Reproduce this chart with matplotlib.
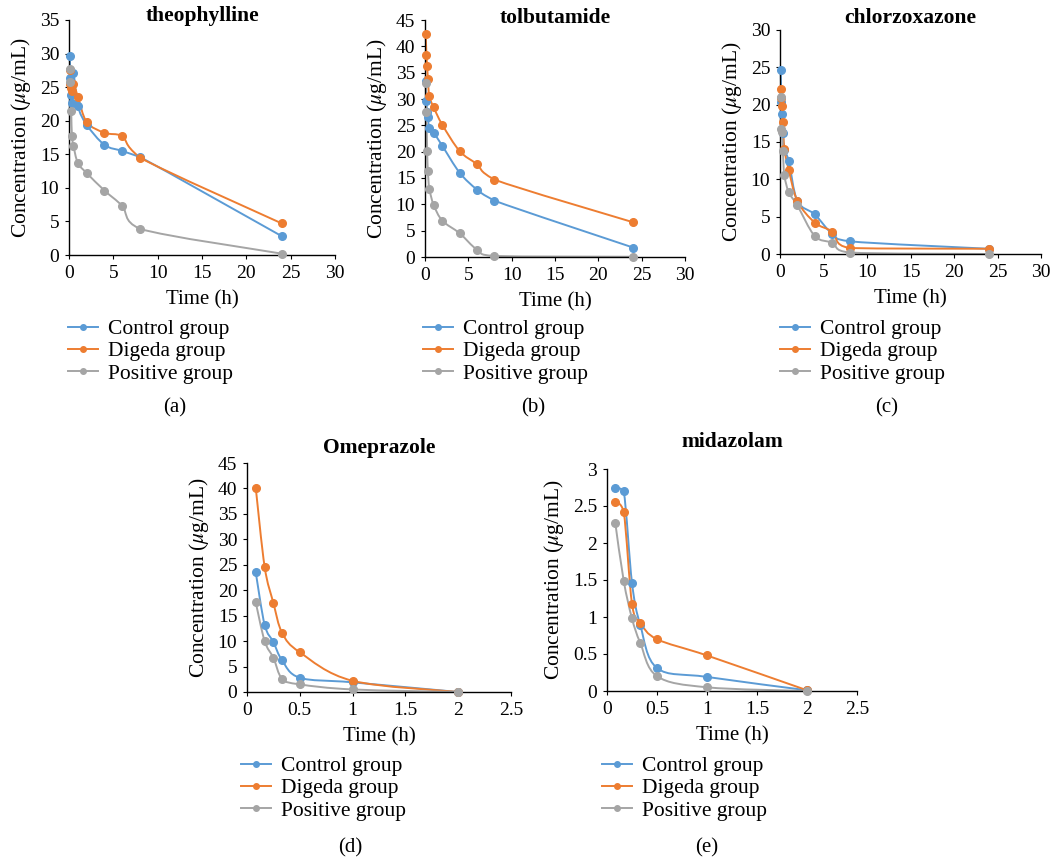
import matplotlib
matplotlib.use("Agg")
import matplotlib.pyplot as plt
import numpy as np
from matplotlib.path import Path
from matplotlib.patches import PathPatch
from matplotlib.lines import Line2D

plt.rcParams['font.family'] = ['Liberation Serif', 'DejaVu Serif']
plt.rcParams['mathtext.fontset'] = 'stix'

groups = ["Control group", "Digeda group", "Positive group"]
colors = ["#5B9BD5", "#ED7D31", "#A5A5A5"]

t_long = [0.083, 0.167, 0.25, 0.333, 0.5, 1, 2, 4, 6, 8, 24]
t_short = [0.083, 0.167, 0.25, 0.333, 0.5, 1, 2]

theo_control = [29.7, 26.3, 23.8, 22.7, 27.1, 22.2, 19.4, 16.4, 15.5, 14.6, 2.8]
theo_digeda = [27.6, 25.5, 24.8, 24.5, 25.5, 23.6, 19.8, 18.2, 17.7, 14.5, 4.7]
theo_positive = [27.7, 25.7, 21.4, 17.7, 16.3, 13.7, 12.2, 9.6, 7.3, 3.9, 0.2]

tolb_control = [33.4, 29.7, 27.5, 26.6, 24.5, 23.6, 21.1, 16.0, 12.8, 10.7, 1.8]
tolb_digeda = [42.4, 38.3, 36.3, 33.8, 30.5, 28.4, 25.1, 20.1, 17.6, 14.7, 6.6]
tolb_positive = [33.0, 27.5, 20.1, 16.3, 13.0, 9.9, 6.9, 4.5, 1.4, 0.2, 0.05]

chlor_control = [24.6, 20.4, 18.8, 16.2, 13.9, 12.5, 7.1, 5.3, 2.7, 1.7, 0.7]
chlor_digeda = [22.1, 20.9, 19.8, 17.7, 14.1, 11.3, 7.1, 4.2, 3.0, 0.8, 0.7]
chlor_positive = [21.0, 16.8, 16.4, 13.8, 10.6, 8.3, 6.5, 2.4, 1.5, 0.2, 0.0]

omep_control = [23.5, 13.2, 9.8, 6.2, 2.8, 1.9, 0.0]
omep_digeda = [40.1, 24.6, 17.5, 11.6, 7.8, 2.2, 0.0]
omep_positive = [17.6, 10.0, 6.7, 2.6, 1.5, 0.5, 0.0]

mida_control = [2.75, 2.70, 1.46, 0.89, 0.31, 0.19, 0.01]
mida_digeda = [2.56, 2.42, 1.18, 0.92, 0.70, 0.48, 0.01]
mida_positive = [2.27, 1.49, 0.98, 0.65, 0.20, 0.05, 0.0]

W, H = 1055, 858
fig = plt.figure(figsize=(W / 100, H / 100), dpi=100)


def smooth_path(x, y):
    pts = np.column_stack([x, y]).astype(float)
    n = len(pts)
    verts = [pts[0]]
    codes = [Path.MOVETO]
    for i in range(n - 1):
        p0 = pts[i - 1] if i > 0 else pts[i]
        p1 = pts[i]
        p2 = pts[i + 1]
        p3 = pts[i + 2] if i + 2 < n else pts[i + 1]
        c1 = p1 + (p2 - p0) / 6.0
        c2 = p2 - (p3 - p1) / 6.0
        for k in (0, 1):
            lo, hi = min(p1[k], p2[k]), max(p1[k], p2[k])
            c1[k] = min(max(c1[k], lo), hi)
            c2[k] = min(max(c2[k], lo), hi)
        verts += [c1, c2, p2]
        codes += [Path.CURVE4] * 3
    return Path(verts, codes)


def panel(px, title, t, series, xmax, xstep, ymax, ystep, title_y, leg_xy, lab_xy, lab):
    l, r, top, bot = px
    ax = fig.add_axes([l / W, 1 - bot / H, (r - l) / W, (bot - top) / H])
    for s, c in zip(series, colors):
        ax.add_patch(PathPatch(smooth_path(t, s), facecolor='none', edgecolor=c,
                               lw=1.4, transform=ax.transData, clip_on=False))
        ax.plot(t, s, 'o', color=c, ms=5.5, clip_on=False, zorder=3)
    ax.set_xlim(0, xmax)
    ax.set_ylim(0, ymax)
    ax.set_xticks(np.arange(0, xmax + 1e-9, xstep))
    ax.set_yticks(np.arange(0, ymax + 1e-9, ystep))
    ax.xaxis.set_major_formatter(matplotlib.ticker.FuncFormatter(lambda v, p: f"{v:g}"))
    ax.yaxis.set_major_formatter(matplotlib.ticker.FuncFormatter(lambda v, p: f"{v:g}"))
    for sp in ['top', 'right']:
        ax.spines[sp].set_visible(False)
    for sp in ['left', 'bottom']:
        ax.spines[sp].set_linewidth(1.0)
    ax.tick_params(labelsize=14, direction='out', length=3, width=0.8, pad=4)
    ax.set_xlabel("Time (h)", fontsize=15, labelpad=6)
    ax.set_ylabel(r"Concentration ($\mu$g/mL)", fontsize=15.5, labelpad=5)
    fig.text((l + r) / 2 / W, 1 - title_y / H, title, ha='center', va='center',
             fontsize=15.5, fontweight='bold')
    handles = [Line2D([], [], color=c, marker='o', ms=4, lw=1.4) for c in colors]
    fig.legend(handles, groups, loc='upper left', bbox_to_anchor=(leg_xy[0] / W, 1 - leg_xy[1] / H),
               frameon=False, fontsize=15.5, handlelength=1.4, handletextpad=0.45,
               labelspacing=0.1, borderpad=0, borderaxespad=0)
    fig.text(lab_xy[0] / W, 1 - lab_xy[1] / H, lab, ha='center', va='center', fontsize=15)
    return ax


panel((69, 335, 20, 255), "theophylline", t_long,
      [theo_control, theo_digeda, theo_positive], 30, 5, 35, 5, 16, (68, 319), (175, 408), "(a)")
panel((425, 685, 20, 257), "tolbutamide", t_long,
      [tolb_control, tolb_digeda, tolb_positive], 30, 5, 45, 5, 18, (423, 319), (533, 408), "(b)")
panel((780, 1041, 30, 254), "chlorzoxazone", t_long,
      [chlor_control, chlor_digeda, chlor_positive], 30, 5, 30, 5, 18, (780, 319), (887, 408), "(c)")
panel((247, 511, 463, 692), "Omeprazole", t_short,
      [omep_control, omep_digeda, omep_positive], 2.5, 0.5, 45, 5, 448, (241, 756), (350, 848), "(d)")
panel((607, 857, 469, 691), "midazolam", t_short,
      [mida_control, mida_digeda, mida_positive], 2.5, 0.5, 3, 0.5, 442, (602, 756), (707, 848), "(e)")

fig.savefig("out.png", dpi=100, facecolor='white')
